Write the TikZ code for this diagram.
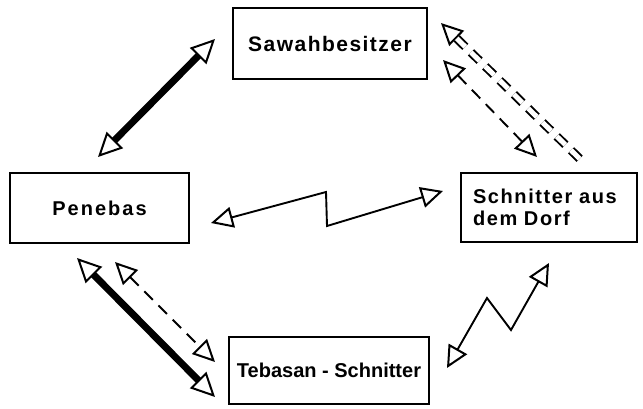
\documentclass[tikz,border=0pt]{standalone}
\usepackage{fontspec}
\setmainfont{Liberation Sans}
\usetikzlibrary{arrows.meta,calc}
\begin{document}
\begin{tikzpicture}[x=1pt,y=-1pt,
  box/.style={draw, line width=2pt, inner sep=0pt, font=\bfseries\fontsize{20}{21.5}\selectfont},
  smalltip/.tip={Triangle[open,length=22pt,width=21pt,line width=2pt]},
  bigtip/.tip={Triangle[open,length=24pt,width=23pt,line width=2pt]},
  thickarr/.style={line width=7pt, {bigtip}-{bigtip}},
  thinarr/.style={line width=1.9pt, line join=miter, {smalltip}-{smalltip}},
  dasharr/.style={line width=1.9pt, dash pattern=on 12pt off 8pt, {smalltip}-{smalltip}},
  dbldash/.style={line width=1.9pt, double=white, double distance=5pt, dash pattern=on 12pt off 8pt}
]
\useasboundingbox (0,0) rectangle (643,408);

\node[box, minimum width=194pt, minimum height=71pt] (saw) at (330,43.5)
  {\fontsize{21}{22}\selectfont\addfontfeatures{LetterSpace=7}Sawahbesitzer};
\node[box, minimum width=179pt, minimum height=70pt] (pen) at (99.5,208)
  {\addfontfeatures{LetterSpace=10}Penebas};
\node[box, minimum width=176pt, minimum height=69pt, text width=152pt, align=left] (dorf) at (549,207.5)
  {\addfontfeatures{LetterSpace=8}Schnitter aus\\dem Dorf};
\node[box, minimum width=200pt, minimum height=67pt] (teb) at (329,370.5)
  {Tebasan - Schnitter};

% Sawahbesitzer -- Penebas (thick)
\coordinate (sp1) at (98,157);
\coordinate (sp2) at (215,39);
\draw[thickarr] (sp1) -- (sp2);

% Sawahbesitzer -- Schnitter aus dem Dorf (double dashed, one head)
\coordinate (dd1) at (441,23);
\coordinate (dd2) at (584,163);
\coordinate (ddb) at ($(dd1)!22pt!(dd2)$);
\draw[line width=1.9pt, -{smalltip}] (ddb) -- (dd1);
\draw[dbldash] (ddb) -- (dd2);

% Sawahbesitzer -- Schnitter aus dem Dorf (dashed, two heads)
\coordinate (sd1) at (443,60);
\coordinate (sd2) at (537,157);
\draw[dasharr] (sd1) -- (sd2);

% Penebas -- Schnitter aus dem Dorf (zigzag)
\coordinate (pz1) at (211,223);
\coordinate (pz2) at (326,192);
\coordinate (pz3) at (327,226);
\coordinate (pz4) at (443,191);
\draw[thinarr] (pz1) -- (pz2) -- (pz3) -- (pz4);

% Tebasan -- Schnitter aus dem Dorf (zigzag)
\coordinate (tz1) at (447,368);
\coordinate (tz2) at (487,298);
\coordinate (tz3) at (511,330);
\coordinate (tz4) at (549,263);
\draw[thinarr] (tz1) -- (tz2) -- (tz3) -- (tz4);

% Penebas -- Tebasan (thick)
\coordinate (pt1) at (77,258);
\coordinate (pt2) at (215,397);
\draw[thickarr] (pt1) -- (pt2);

% Penebas -- Tebasan (dashed)
\coordinate (pd1) at (115,262);
\coordinate (pd2) at (215,362);
\draw[dasharr] (pd1) -- (pd2);
\end{tikzpicture}
\end{document}
